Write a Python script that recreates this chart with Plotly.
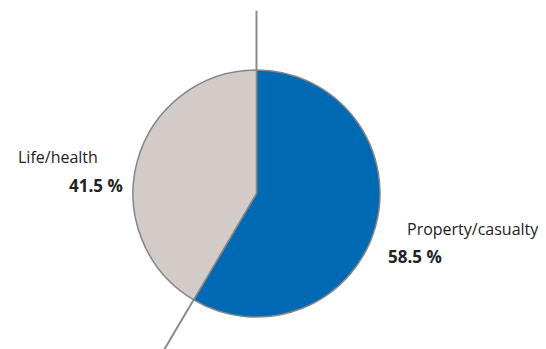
import math
import plotly.graph_objects as go

# ---- data ----
segments = ["Property/casualty", "Life/health"]
shares = [58.5, 41.5]
share_labels = ["58.5 %", "41.5 %"]
colors = ["#0069b4", "#d2cbc8"]

W, H = 546, 349
OFF = 8  # page body margin offset
# pie placement (screen pixels)
px_left, px_right, px_top, px_bottom = 133, 380, 70, 317

def px2paper(x, y):
    return (x - OFF) / W, 1 - (y - OFF) / H

dx0, dy1 = px2paper(px_left, px_top)
dx1, dy0 = px2paper(px_right, px_bottom)

fig = go.Figure(go.Pie(
    labels=segments,
    values=shares,
    sort=False,
    direction="clockwise",
    rotation=0,
    textinfo="none",
    hoverinfo="label+percent",
    marker=dict(colors=colors, line=dict(color="#858585", width=1.5)),
    domain=dict(x=[dx0, dx1], y=[dy0, dy1]),
    showlegend=False,
))

# leader lines at slice boundaries, derived from the data
cx = (px_left + px_right) / 2
cy = (px_top + px_bottom) / 2
r = (px_right - px_left) / 2
total = sum(shares)
shapes = []
cum = 0
ext = [1.48, 1.5]
for i, v in enumerate(shares):
    ang = math.radians(360 * cum / total)
    sx, sy = cx + r * math.sin(ang), cy - r * math.cos(ang)
    k = ext[i]
    ex, ey = cx + r * k * math.sin(ang), cy - r * k * math.cos(ang)
    x0p, y0p = px2paper(sx, sy)
    x1p, y1p = px2paper(ex, ey)
    shapes.append(dict(type="line", xref="paper", yref="paper",
                       x0=x0p, y0=y0p, x1=x1p, y1=y1p,
                       line=dict(color="#8a8a8a", width=2)))
    cum += v

font_family = "Open Sans"
annotations = []
label_pos = {  # screen pixel anchor positions (left, middle)
    "Property/casualty": (405, 229),
    "Life/health": (16, 157),
}
value_pos = {
    "Property/casualty": (386, 256),
    "Life/health": (67, 185),
}
for seg, lab in zip(segments, share_labels):
    lx, ly = px2paper(*label_pos[seg])
    annotations.append(dict(x=lx, y=ly, xref="paper", yref="paper", text=seg,
                            showarrow=False, xanchor="left", yanchor="middle",
                            font=dict(family=font_family, size=16, color="#222222")))
    vx, vy = px2paper(*value_pos[seg])
    annotations.append(dict(x=vx, y=vy, xref="paper", yref="paper", text="<b>" + lab + "</b>",
                            showarrow=False, xanchor="left", yanchor="middle",
                            font=dict(family=font_family, size=17, color="#222222")))

fig.update_layout(
    width=W, height=H, autosize=False,
    margin=dict(l=0, r=0, t=0, b=0),
    paper_bgcolor="white", plot_bgcolor="white",
    shapes=shapes, annotations=annotations,
)

fig.write_html("out.html")
